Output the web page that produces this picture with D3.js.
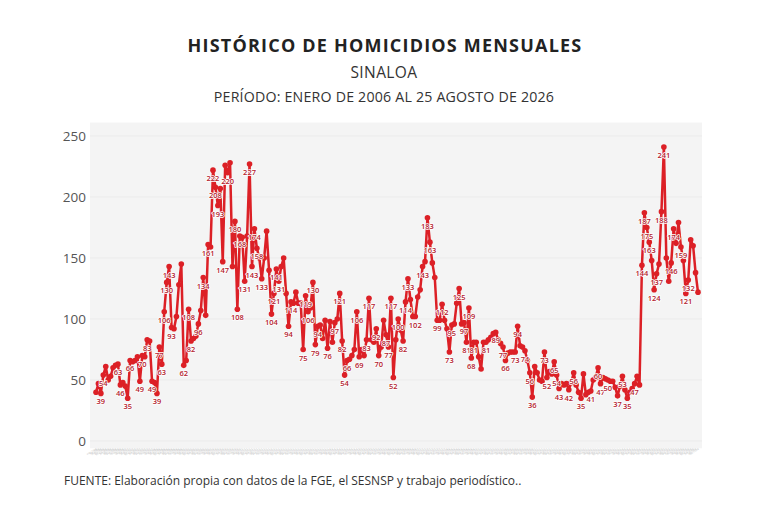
<!DOCTYPE html>
<html lang="es">
<head>
<meta charset="utf-8">
<title>Histórico de homicidios mensuales - Sinaloa</title>
<script src="https://cdn.jsdelivr.net/npm/d3@7"></script>
<style>
    html, body { margin: 0; padding: 0; background: #ffffff; }
    #chart { width: 768px; height: 512px; }
    text { font-family: "Open Sans", "Noto Sans", sans-serif; }
    .title { font-weight: 700; fill: #222; }
    .sub { fill: #333; }
    .y-axis text { fill: #555; font-size: 13.5px; }
    .y-axis path, .y-axis line { display: none; }
    .pt-label { font-size: 7.5px; font-weight: 600; fill: #b3202c;
        stroke: #fff; stroke-width: 1.5px; paint-order: stroke; stroke-linejoin: round; }
</style>
</head>
<body>
<div id="chart"></div>
<script>
// monthly homicides, Jan 2006 .. Aug 2026
const startYear = 2006;
const monthNames = ["ene", "feb", "mar", "abr", "may", "jun", "jul", "ago", "sep", "oct", "nov", "dic"];

const homicides = [
    40, 47, 39, 54, 61, 50, 53, 60, 62, 63, 46, 48,          // 2006
    45, 35, 66, 65, 66, 69, 49, 70, 69, 83, 82, 49,          // 2007
    48, 39, 77, 63, 106, 130, 143, 93, 92, 102, 128, 145,    // 2008
    62, 66, 108, 82, 84, 86, 96, 107, 134, 103, 161, 159,    // 2009
    222, 208, 193, 207, 147, 226, 220, 228, 143, 180, 108, 168, // 2010
    167, 131, 168, 227, 143, 174, 158, 150, 133, 150, 172, 140, // 2011
    104, 121, 141, 131, 143, 150, 121, 94, 114, 113, 122, 113,  // 2012
    113, 75, 119, 106, 109, 130, 79, 94, 95, 84, 99, 76,     // 2013
    98, 81, 97, 100, 121, 82, 54, 66, 67, 70, 75, 106,       // 2014
    69, 75, 70, 83, 117, 83, 81, 92, 70, 77, 99, 87,         // 2015
    77, 117, 52, 83, 100, 91, 82, 114, 133, 116, 102, 102,   // 2016
    118, 124, 143, 147, 183, 163, 146, 134, 99, 99, 112, 99, // 2017
    92, 73, 95, 96, 113, 125, 96, 97, 81, 109, 68, 81,       // 2018
    81, 69, 59, 81, 81, 83, 85, 88, 89, 83, 80, 77,          // 2019
    66, 72, 73, 73, 73, 94, 78, 77, 74, 66, 56, 36,          // 2020
    61, 56, 50, 49, 73, 52, 57, 55, 65, 54, 43, 47,          // 2021
    46, 47, 42, 48, 56, 46, 40, 35, 55, 38, 40, 41,          // 2022
    50, 52, 60, 47, 52, 51, 50, 49, 49, 44, 37, 45,          // 2023
    53, 42, 35, 40, 43, 47, 53, 46, 144, 187, 175, 163,      // 2024
    148, 124, 137, 145, 188, 241, 150, 131, 146, 174, 162, 179, // 2025
    159, 148, 121, 132, 165, 160, 138, 122                   // 2026
];

// months whose value is printed on the chart
const labelledMonths = [
    2, 3, 9, 10, 13, 14, 18, 19, 21, 23, 25, 26, 27, 28, 29, 30, 31,
    36, 38, 39, 42, 44, 46, 48, 49, 50, 52, 54, 57, 58, 59,
    61, 63, 64, 65, 66, 68, 72, 73, 74, 75, 79, 80, 85, 86, 87, 89, 90, 91, 95,
    98, 100, 101, 102, 103, 107, 108, 111, 112, 115, 116, 119,
    120, 121, 122, 124, 126, 127, 128, 131, 134, 136, 137, 140, 142,
    145, 146, 149, 151, 152, 153, 154, 155, 160, 164, 167,
    168, 172, 173, 176, 178, 179, 184, 185, 188, 189, 190,
    194, 196, 199, 203, 206, 207, 210, 214, 216, 218, 221,
    224, 225, 226, 227, 229, 230, 232, 233, 236, 237, 240, 242, 243
];

const yTicks = [0, 50, 100, 150, 200, 250];

const titleText = "HISTÓRICO DE HOMICIDIOS MENSUALES";
const stateText = "SINALOA";
const periodText = "PERÍODO: ENERO DE 2006 AL 25 AGOSTO DE 2026";
const sourceText = "FUENTE: Elaboración propia con datos de la FGE, el SESNSP y trabajo periodístico..";

class MonthlyLineChart {
    constructor(parentElement, data) {
        this.parentElement = parentElement;
        this.data = data;
        this.initVis();
    }

    initVis() {
        let vis = this;

        vis.width = 768;
        vis.height = 512;

        vis.svg = d3.select("#" + vis.parentElement).append("svg")
            .attr("width", vis.width)
            .attr("height", vis.height);

        // titles
        vis.svg.append("text").attr("class", "title")
            .attr("x", 385).attr("y", 52)
            .attr("text-anchor", "middle")
            .style("font-size", "18px")
            .style("letter-spacing", "1.2px")
            .text(titleText);

        vis.svg.append("text").attr("class", "sub")
            .attr("x", 384).attr("y", 78)
            .attr("text-anchor", "middle")
            .style("font-size", "15.5px")
            .style("letter-spacing", "0.4px")
            .text(stateText);

        vis.svg.append("text").attr("class", "sub")
            .attr("x", 384).attr("y", 102)
            .attr("text-anchor", "middle")
            .style("font-size", "14.2px")
            .style("letter-spacing", "0.2px")
            .text(periodText);

        vis.svg.append("text").attr("class", "sub")
            .attr("x", 64).attr("y", 485)
            .style("font-size", "12px")
            .text(sourceText);

        // scales
        vis.x = d3.scaleLinear()
            .domain([0, vis.data.length - 1])
            .range([96, 698]);

        vis.y = d3.scaleLinear()
            .domain([0, 250])
            .range([441, 136]);

        // plot panel
        vis.svg.append("rect")
            .attr("x", 90).attr("y", vis.y(261))
            .attr("width", 612).attr("height", vis.y(-6) - vis.y(261))
            .attr("fill", "#f4f4f4");

        vis.svg.append("g")
            .selectAll("line")
            .data(yTicks)
            .join("line")
            .attr("x1", 90).attr("x2", 702)
            .attr("y1", d => vis.y(d)).attr("y2", d => vis.y(d))
            .attr("stroke", "#ebebeb")
            .attr("stroke-width", 1);

        vis.yAxis = d3.axisLeft(vis.y).tickValues(yTicks).tickSize(0).tickPadding(5);
        vis.svg.append("g")
            .attr("class", "y-axis")
            .attr("transform", "translate(91,0)")
            .call(vis.yAxis);

        // tiny month labels under the panel
        vis.svg.append("g")
            .selectAll("text")
            .data(vis.data)
            .join("text")
            .attr("transform", d => `translate(${vis.x(d.index) + 1},${vis.y(-7)}) rotate(-30)`)
            .attr("text-anchor", "end")
            .style("font-size", "2.6px")
            .attr("fill", "#bbb")
            .text(d => d.label);

        vis.updateVis();
    }

    updateVis() {
        let vis = this;

        let line = d3.line()
            .x(d => vis.x(d.index))
            .y(d => vis.y(d.value));

        vis.svg.append("path")
            .datum(vis.data)
            .attr("d", line)
            .attr("fill", "none")
            .attr("stroke", "#dc2026")
            .attr("stroke-width", 2.5)
            .attr("stroke-linejoin", "round");

        vis.svg.append("g")
            .selectAll("circle")
            .data(vis.data)
            .join("circle")
            .attr("cx", d => vis.x(d.index))
            .attr("cy", d => vis.y(d.value))
            .attr("r", 2.8)
            .attr("fill", "#dc2026");

        vis.svg.append("g")
            .selectAll("text")
            .data(vis.data.filter(d => d.labelled))
            .join("text")
            .attr("class", "pt-label")
            .attr("x", d => vis.x(d.index))
            .attr("y", d => vis.y(d.value) + 11)
            .attr("text-anchor", "middle")
            .text(d => d.value);
    }
}

const labelSet = new Set(labelledMonths);
const monthly = homicides.map((v, i) => ({
    index: i,
    value: v,
    label: monthNames[i % 12] + " " + (startYear + Math.floor(i / 12)),
    labelled: labelSet.has(i)
}));

new MonthlyLineChart("chart", monthly);
</script>
</body>
</html>
